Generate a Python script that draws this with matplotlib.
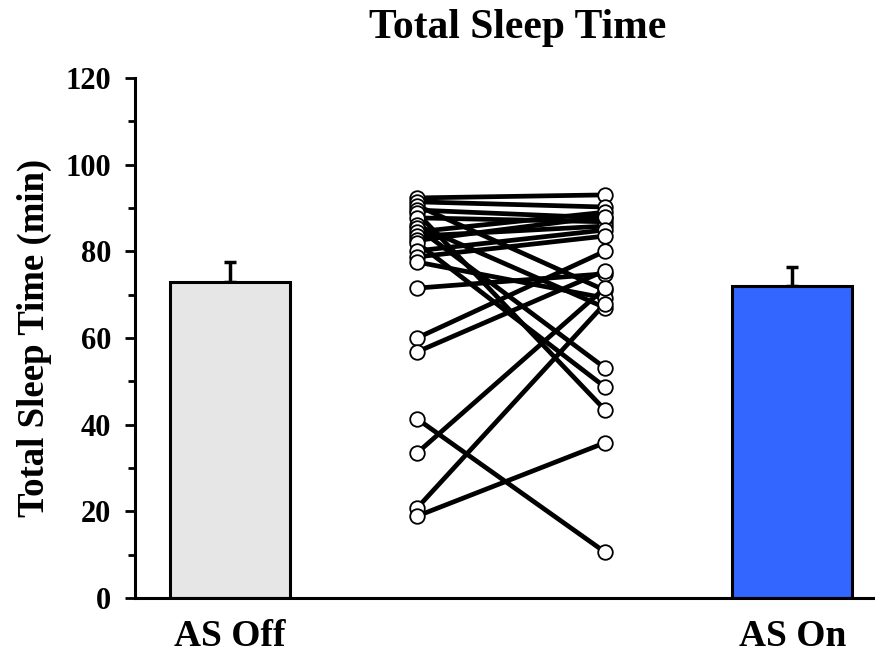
import matplotlib
matplotlib.use("Agg")
from matplotlib import pyplot as plt
from matplotlib.ticker import MultipleLocator

plt.rcParams['font.family'] = ['Liberation Serif', 'DejaVu Serif']
plt.rcParams['font.weight'] = 'bold'

groups = ['AS Off', 'AS On']
means = [73, 72]
sems = [4.5, 4.3]
bar_colors = ['#e6e6e6', '#3366ff']

# paired subjects: value with AS off, value with AS on
off_vals = [92.3, 91.4, 90.5, 89.5, 88.8, 87.7, 86.0, 85.4, 84.5, 83.5, 82.5,
            81.9, 80.1, 78.7, 77.5, 71.5, 60.0, 56.8, 41.3, 33.5, 20.8, 18.9]
on_vals = [93.0, 90.2, 71.0, 87.7, 43.4, 86.8, 67.0, 53.1, 89.0, 85.8, 88.0,
           48.7, 84.9, 83.5, 69.2, 74.8, 80.0, 75.5, 10.6, 71.5, 67.9, 35.8]

fig = plt.figure(figsize=(8.75, 6.6), dpi=100)
ax = fig.add_axes([0.154, 0.094, 0.846, 0.788])

bar_x = [0, 3]
ax.bar(bar_x, means, width=0.64, color=bar_colors, edgecolor='black', linewidth=2.2, zorder=2)
ax.errorbar(bar_x, means, yerr=[[0, 0], sems], fmt='none', ecolor='black',
            elinewidth=2.5, capsize=4, capthick=2.5, zorder=1)

for a, b in zip(off_vals, on_vals):
    ax.plot([1, 2], [a, b], color='black', linewidth=3.4, zorder=3)
ax.plot([1] * len(off_vals), off_vals, 'o', mfc='white', mec='black', ms=10.5, mew=1.3, zorder=4)
ax.plot([2] * len(on_vals), on_vals, 'o', mfc='white', mec='black', ms=10.5, mew=1.3, zorder=4)

ax.set_xlim(-0.506, 3.44)
ax.set_ylim(0, 120)
ax.yaxis.set_major_locator(MultipleLocator(20))
ax.yaxis.set_minor_locator(MultipleLocator(10))
ax.set_xticks(bar_x)
ax.set_xticklabels(groups, fontsize=27, fontweight='bold')
ax.tick_params(axis='x', length=0, pad=15)
ax.tick_params(axis='y', which='major', length=7, width=2, labelsize=22, direction='out', pad=10)
ax.tick_params(axis='y', which='minor', length=5, width=2, direction='out')
for lbl in ax.get_yticklabels():
    lbl.set_fontweight('bold')

ax.spines['top'].set_visible(False)
ax.spines['right'].set_visible(False)
ax.spines['left'].set_linewidth(2.2)
ax.spines['bottom'].set_linewidth(2.2)

ax.set_ylabel('Total Sleep Time (min)', fontsize=26.5, fontweight='bold', labelpad=10)
fig.text(0.592, 0.957, 'Total Sleep Time', ha='center', va='center', fontsize=30, fontweight='bold')

fig.savefig('out.png', dpi=100)
